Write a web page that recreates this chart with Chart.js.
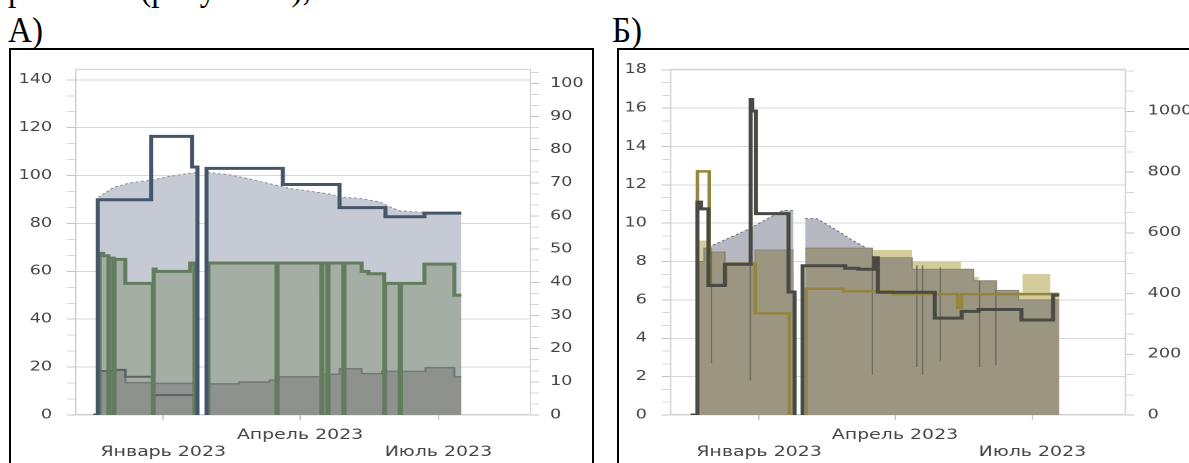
<!DOCTYPE html>
<html lang="ru">
<head>
<meta charset="utf-8">
<title>Графики А и Б</title>
<script src="https://cdn.jsdelivr.net/npm/chart.js@4.4.0/dist/chart.umd.min.js"></script>
<style>
    body { margin: 0; width: 1189px; height: 463px; overflow: hidden; background: #fff; position: relative; font-family: 'Liberation Serif', 'Times New Roman', serif; }
    .doc { position: absolute; font-size: 36px; line-height: 36px; color: #000; white-space: nowrap; transform: scaleX(0.92); transform-origin: 0 0; }
    .box { position: absolute; border: 2px solid #000; }
    .wrap { position: absolute; top: 50px; width: 430px; height: 413px; transform: scaleX(1.351); transform-origin: 0 0; }
</style>
</head>
<body>
<div class="doc" style="left:8px;top:-30px">режимах (рисунок 4),</div>
<div class="doc" style="left:8px;top:12px">А)</div>
<div class="doc" style="left:612px;top:12px">Б)</div>
<div class="box" style="left:9px;top:48px;width:581px;height:460px"></div>
<div class="box" style="left:617px;top:48px;width:620px;height:460px"></div>
<div class="wrap" style="left:11px"><canvas id="chartA"></canvas></div>
<div class="wrap" style="left:619px"><canvas id="chartB"></canvas></div>

<script>
// x values are days counted from 1 January 2023
const monthTicks = [0, 90, 181];
const monthLabels = [['', 'Январь 2023'], ['Апрель 2023', ''], ['', 'Июль 2023']];

// ---- panel A ----
const aLeftTicks = [0, 20, 40, 60, 80, 100, 120, 140];
const aRightTicks = [0, 10, 20, 30, 40, 50, 60, 70, 80, 90, 100];

const aNavyX = [-46, -43, -8, 19, 22.5, 25.5, 28.5, 28.5, 78.7, 116, 146.2, 171.8, 196];
const aNavyY = [0, 89.9, 116.4, 103.6, 0, null, 0, 103, 96.3, 86.6, 82.8, 84.3, 84.3];

const aLightX = [-42.6, -32.8, -21.6, -8.5, 4.6, 17.7, 22.3, 25.5, 29, 43.9, 57, 70.2, 83.3, 96.4, 109.5, 116, 129, 142.3, 148.9, 155.4, 168.5, 196];
const aLightY = [91, 95, 97, 98, 99.7, 101, 101.3, null, 101.3, 100.3, 98.6, 96.6, 94.6, 93.5, 92.3, 91, 90.5, 89, 87, 85.3, 84.7, 84.7];

const aGreenX = [-41.8, -41.8, -39.5, -36, -35.4, -32.6, -32, -24.9, -6.9, -6.3, -5, 17.7, 20.5, 25.5, 29.8, 29.8, 74.5, 75.2, 104, 104.7, 108, 108.7, 118.5, 119.2, 130.5, 135, 145.3, 146, 155.6, 156.3, 171.8, 191.5, 196];
const aGreenY = [0, 67.5, 66.5, 0, 65.5, 0, 65, 55, 0, 61, 60, 63.5, 0, null, 0, 63.5, 0, 63.5, 0, 63.5, 0, 63.5, 0, 63.5, 60, 59, 0, 55, 0, 55, 63, 50, 50];

const aSlateX = [-42.3, -32.6, -32, -24.9, -6.9, -6.3, 20.5];
const aSlateY = [18.3, 0, 18.8, 16, 0, 8.3, 0];

const aDarkX = [-42.3, -32.6, -32, -24.9, -6.9, -6.3, 20.5, 25.5, 29.8, 50, 70, 75.2, 104, 116, 130.5, 144, 172.5, 191.5, 196];
const aDarkY = [18.5, 0, 19, 13.5, 0, 13.2, 0, null, 13, 13.8, 14.6, 16, 17, 19.3, 17.3, 18.2, 19.8, 16, 16];

// ---- panel B ----
const bLeftTicks = [0, 2, 4, 6, 8, 10, 12, 14, 16, 18];
const bRightTicks = [0, 200, 400, 600, 800, 1000];

const bCharX = [-45.4, -40.8, -38.5, -33.5, -22.6, -5.6, -4.5, -2.0, 19.5, 23.5, 26, 28.8, 28.8, 57.1, 65.8, 76.1, 78.6, 116.4, 134.2, 145.4, 173.7, 194.7, 198.7];
const bCharY = [0, 11.1, 10.75, 6.75, 7.86, 16.45, 15.85, 10.5, 6.41, 0, null, 0, 7.78, 7.65, 7.6, 8.2, 6.4, 5.05, 5.4, 5.5, 4.95, 6.25, 6.25];

const bOliveX = [-40.8, -40.8, -33.0, -22.0, -2.6, 20, 26, 31.3, 31.3, 55.9, 88.8, 131.5, 134, 198.7];
const bOliveY = [0, 12.7, 6.8, 7.9, 5.3, 0, null, 0, 6.58, 6.45, 6.3, 5.6, 6.3, 6.3];

const bGrayX = [-39.5, -32, -8, 15.5, 22.8, 26, 30.5, 38.2, 50, 62, 73.5, 91.4, 101.3, 119.1, 134.2, 145.4, 152, 156.6, 198.7];
const bGrayY = [8.5, 8.8, 9.65, 10.66, 10.66, null, 10.24, 10.24, 9.7, 9.1, 8.6, 7.9, 7.86, 7.7, 7.18, 6.75, 6.5, 6.3, 6.2];

const bKhakiX = [-40.5, -34.2, 23, 26, 30.5, 101.3, 133.6, 145.4, 157.2, 174.5, 192.8, 198.7];
const bKhakiY = [9.1, 7.5, 7.5, null, 8.6, 8.0, 7.2, 6.9, 6.4, 7.35, 6.4, 6.4];

const bBrownX = [-40.8, -36.5, -31.5, -22.6, -2.6, 23, 26, 30.5, 75, 101.3, 142.1, 157.2, 171.7, 198.7];
const bBrownY = [8.0, 8.7, 8.5, 7.9, 8.6, 8.6, null, 8.7, 8.2, 7.6, 7.0, 6.5, 6.0, 6.0];

const bDipX = [-31.5, -5.8, 75, 104.5, 108.3, 120, 146, 156.8];
const bDipTop = [8.5, 8.6, 8.3, 7.8, 7.8, 7.7, 7.0, 6.5];
const bDipLow = [2.7, 1.8, 2.1, 2.5, 2.1, 2.8, 2.5, 2.6];

Chart.defaults.font.family = "'DejaVu Sans', Verdana, sans-serif";
Chart.defaults.font.size = 13;
Chart.defaults.color = '#444';

function zip(xs, ys) {
    return xs.map((x, i) => ({ x: x, y: ys[i] }));
}

function dipSegments(xs, tops, lows) {
    const pts = [];
    xs.forEach((x, i) => {
        pts.push({ x: x, y: tops[i] }, { x: x, y: lows[i] }, { x: x + 0.01, y: null });
    });
    return pts;
}

// light grey frame round the plot area
const plotFrame = {
    id: 'plotFrame',
    beforeDatasetsDraw(chart) {
        const a = chart.chartArea;
        const c = chart.ctx;
        c.save();
        c.strokeStyle = '#d0d0d0';
        c.lineWidth = 1;
        c.strokeRect(a.left + 0.5, a.top + 0.5, a.right - a.left - 1, a.bottom - a.top - 1);
        c.restore();
    }
};

function xAxis(min, max) {
    return {
        type: 'linear',
        min: min,
        max: max,
        afterBuildTicks: s => { s.ticks = monthTicks.map(v => ({ value: v })); },
        afterFit: s => { s.height = 48; },
        border: { display: false },
        grid: { drawOnChartArea: false, tickLength: 5, tickColor: '#c4c4c4' },
        ticks: {
            padding: 7, maxRotation: 0, autoSkip: false,
            font: { size: 14 },
            callback: (v, i) => monthLabels[i]
        }
    };
}

function yAxis(pos, labels, max, width, tickLen, pad, drawGrid) {
    const major = labels[1] - labels[0];
    const isMajor = v => Math.abs(v / major - Math.round(v / major)) < 1e-6;
    return {
        type: 'linear',
        position: pos,
        min: 0,
        max: max,
        afterBuildTicks: s => {
            // two unlabeled minor ticks between every labeled one
            const t = [];
            for (let i = 0; labels[0] + i * major / 3 <= max + 1e-9; i++) {
                t.push({ value: labels[0] + i * major / 3 });
            }
            s.ticks = t;
        },
        afterFit: s => { s.width = width; },
        border: { display: false },
        grid: {
            drawOnChartArea: drawGrid,
            tickLength: tickLen,
            color: c => (c.tick && isMajor(c.tick.value)) ? '#d7d7d7' : 'rgba(0,0,0,0)',
            tickColor: c => (c.tick && isMajor(c.tick.value)) ? '#c4c4c4' : '#d8d8d8'
        },
        ticks: {
            padding: pad,
            autoSkip: false,
            callback: v => (isMajor(v) && labels.includes(Math.round(v))) ? String(Math.round(v)) : ''
        }
    };
}

function baseOptions(scales) {
    return {
        responsive: true,
        maintainAspectRatio: false,
        devicePixelRatio: 2,
        animation: false,
        events: [],
        layout: { padding: { top: 12, right: 0, bottom: 0, left: 0 } },
        elements: { point: { radius: 0 }, line: { tension: 0 } },
        plugins: { legend: { display: false }, tooltip: { enabled: false } },
        scales: scales
    };
}

new Chart(document.getElementById('chartA'), {
    type: 'line',
    data: {
        datasets: [
            { data: zip(aNavyX, aNavyY), borderColor: '#46566a', borderWidth: 3, stepped: true, fill: false },
            { data: zip(aGreenX, aGreenY), borderColor: '#627d5e', borderWidth: 3, stepped: true, fill: false },
            { data: zip(aSlateX, aSlateY), borderColor: '#5c6468', borderWidth: 2, stepped: true, fill: false },
            { data: zip(aDarkX, aDarkY), borderColor: '#737976', borderWidth: 1.5, backgroundColor: '#8f918e', stepped: true, fill: 'origin' },
            { data: zip(aGreenX, aGreenY), borderColor: 'rgba(0,0,0,0)', borderWidth: 1, backgroundColor: '#a4aea5', stepped: true, fill: 'origin' },
            { data: zip(aLightX, aLightY), borderColor: '#8b8f98', borderWidth: 1, borderDash: [2, 2], backgroundColor: '#c6cad4', fill: 'origin' }
        ]
    },
    options: baseOptions({
        x: xAxis(-58, 242),
        y: yAxis('left', aLeftTicks, 144.6, 47.4, 6, 11, true),
        y1: yAxis('right', aRightTicks, 104.4, 45, 6, 8, false)
    }),
    plugins: [plotFrame]
});

new Chart(document.getElementById('chartB'), {
    type: 'line',
    data: {
        datasets: [
            { data: zip(bCharX, bCharY), borderColor: '#4a4a45', borderWidth: 3, stepped: true, fill: false },
            { data: zip(bOliveX, bOliveY), borderColor: '#95843e', borderWidth: 2.5, stepped: true, fill: false },
            { data: dipSegments(bDipX, bDipTop, bDipLow), borderColor: '#6f6b5e', borderWidth: 1, fill: false },
            { data: zip(bBrownX, bBrownY), borderColor: '#8a8572', borderWidth: 1, backgroundColor: '#9b9682', stepped: true, fill: 'origin' },
            { data: zip(bKhakiX, bKhakiY), borderColor: 'rgba(0,0,0,0)', borderWidth: 1, backgroundColor: '#d5cc9c', stepped: true, fill: 'origin' },
            { data: zip(bGrayX, bGrayY), borderColor: '#6d7079', borderWidth: 1, borderDash: [2, 2], backgroundColor: '#b6b9c2', fill: 'origin' }
        ]
    },
    options: baseOptions({
        x: xAxis(-59, 243),
        y: yAxis('left', bLeftTicks, 18.05, 37.7, 6, 11, true),
        y1: yAxis('right', bRightTicks, 1140, 54.7, 6, 10, false)
    }),
    plugins: [plotFrame]
});
</script>
</body>
</html>
